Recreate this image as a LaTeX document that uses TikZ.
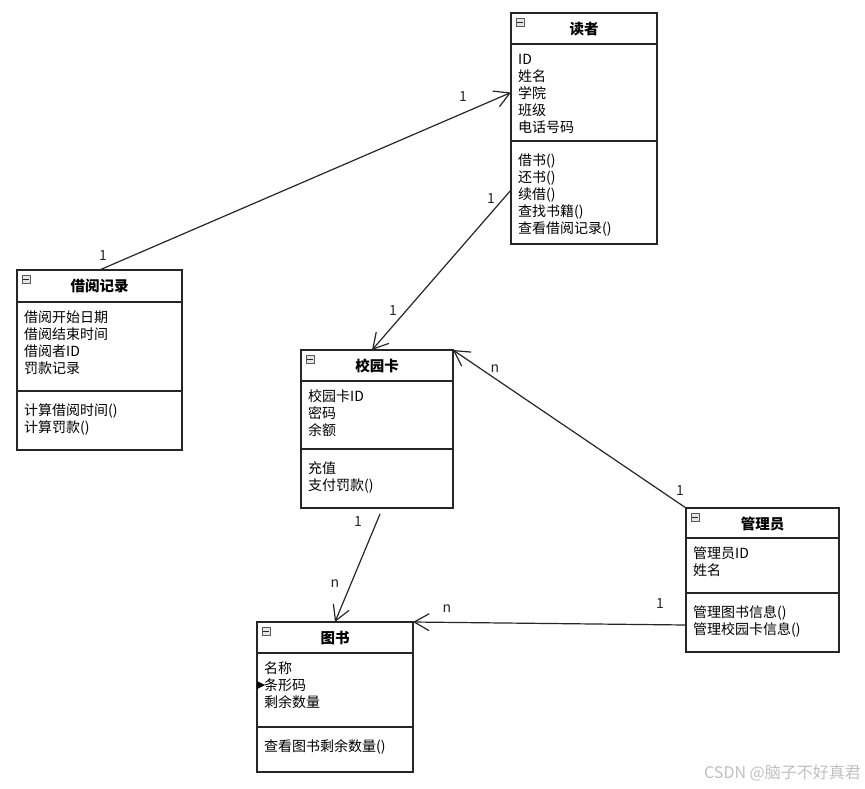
\documentclass[tikz,border=0pt]{standalone}
\usepackage{fontspec}
\setmainfont{Noto Sans CJK SC}
\usetikzlibrary{arrows.meta}

\tikzset{
  classbox/.style={draw=black!85,line width=1.2pt,anchor=north west,inner sep=0pt,outer sep=0pt},
  divider/.style={draw=black!85,line width=1.2pt},
  classname/.style={anchor=base,inner sep=0pt,font=\fontsize{14.5}{16}\selectfont\bfseries},
  member/.style={anchor=base west,inner sep=0pt,font=\fontsize{14}{16}\selectfont},
  icon/.style={draw=gray!70!black,fill=gray!20,line width=0.7pt,minimum size=8pt,inner sep=0pt},
  assoc/.style={draw=black!85,line width=1.2pt,-{Straight Barb[length=15pt,width=17pt]}},
  mult/.style={inner sep=1pt,font=\fontsize{14}{15}\selectfont,text=black!85}
}

% class box: name, corner, width, height, divider 1, divider 2, title, fields, methods
\newcommand\umlclass[9]{%
  \begin{scope}[shift={#2}]
    \node[classbox,minimum width=#3pt,minimum height=#4pt] (#1) at (0,0) {};
    \draw[divider] (0,#5) -- (#3,#5);
    \draw[divider] (0,#6) -- (#3,#6);
    \node[icon] (#1-i) at (9,9) {};
    \draw[line width=1pt,gray!30!black] ([xshift=1.6pt]#1-i.west) -- ([xshift=-1.6pt]#1-i.east);
    \node[classname] (#1-t) at ({#3/2},21.3) {#7};
    \foreach \mem [count=\i] in {#8}
      \node[member] (#1-a\i) at (7,{#5+20.8+16.8*(\i-1)}) {\mem};
    \foreach \mem [count=\i] in {#9}
      \node[member] (#1-o\i) at (7,{#6+24.8+16.8*(\i-1)}) {\mem};
  \end{scope}}

\begin{document}
\begin{tikzpicture}[x=1pt,y=-1pt]
  \useasboundingbox (0,0) rectangle (865,788);

  \umlclass{reader}{(511,13)}{146}{231}{31}{128}{读者}
    {ID,姓名,学院,班级,电话号码}{借书(),还书(),续借(),查找书籍(),查看借阅记录()}
  \umlclass{record}{(17,270)}{165}{180}{32}{121}{借阅记录}
    {借阅开始日期,借阅结束时间,借阅者ID,罚款记录}{计算借阅时间(),计算罚款()}
  \umlclass{card}{(301,350)}{152}{158}{31}{99}{校园卡}
    {校园卡ID,密码,余额}{充值,支付罚款()}
  \umlclass{book}{(257,622)}{156}{150}{31}{105}{图书}
    {名称,条形码,剩余数量}{查看图书剩余数量()}
  \umlclass{admin}{(686,508)}{153}{144}{30}{85}{管理员}
    {管理员ID,姓名}{管理图书信息(),管理校园卡信息()}

  % associations
  \draw[assoc] (record.north) -- ([yshift=36pt]reader.west);
  \draw[assoc] ([yshift=-61.5pt]reader.west) -- ([xshift=-5pt]card.north);
  \draw[assoc] (admin.north west) -- (card.north east);
  \draw[assoc] ([xshift=3pt,yshift=-6pt]card.south) -- (book.north);
  \draw[assoc] ([yshift=-45pt]admin.west) -- (book.north east);

  % multiplicities
  \node[mult] (m1) at (103,256) {1};
  \node[mult] (m2) at (463,97) {1};
  \node[mult] (m3) at (491,199) {1};
  \node[mult] (m4) at (393,311) {1};
  \node[mult] (m5) at (680,490) {1};
  \node[mult] (m6) at (495,369) {n};
  \node[mult] (m7) at (358,521) {1};
  \node[mult] (m8) at (335,584) {n};
  \node[mult] (m9) at (660,603) {1};
  \node[mult] (m10) at (447,609) {n};

  \fill (257,681) -- (265,685) -- (257,689) -- cycle;

  \node[anchor=east,inner sep=0pt,font=\fontsize{16}{18}\selectfont,text=black!25] (mark) at (861,773) {CSDN @脑子不好真君};
\end{tikzpicture}
\end{document}
